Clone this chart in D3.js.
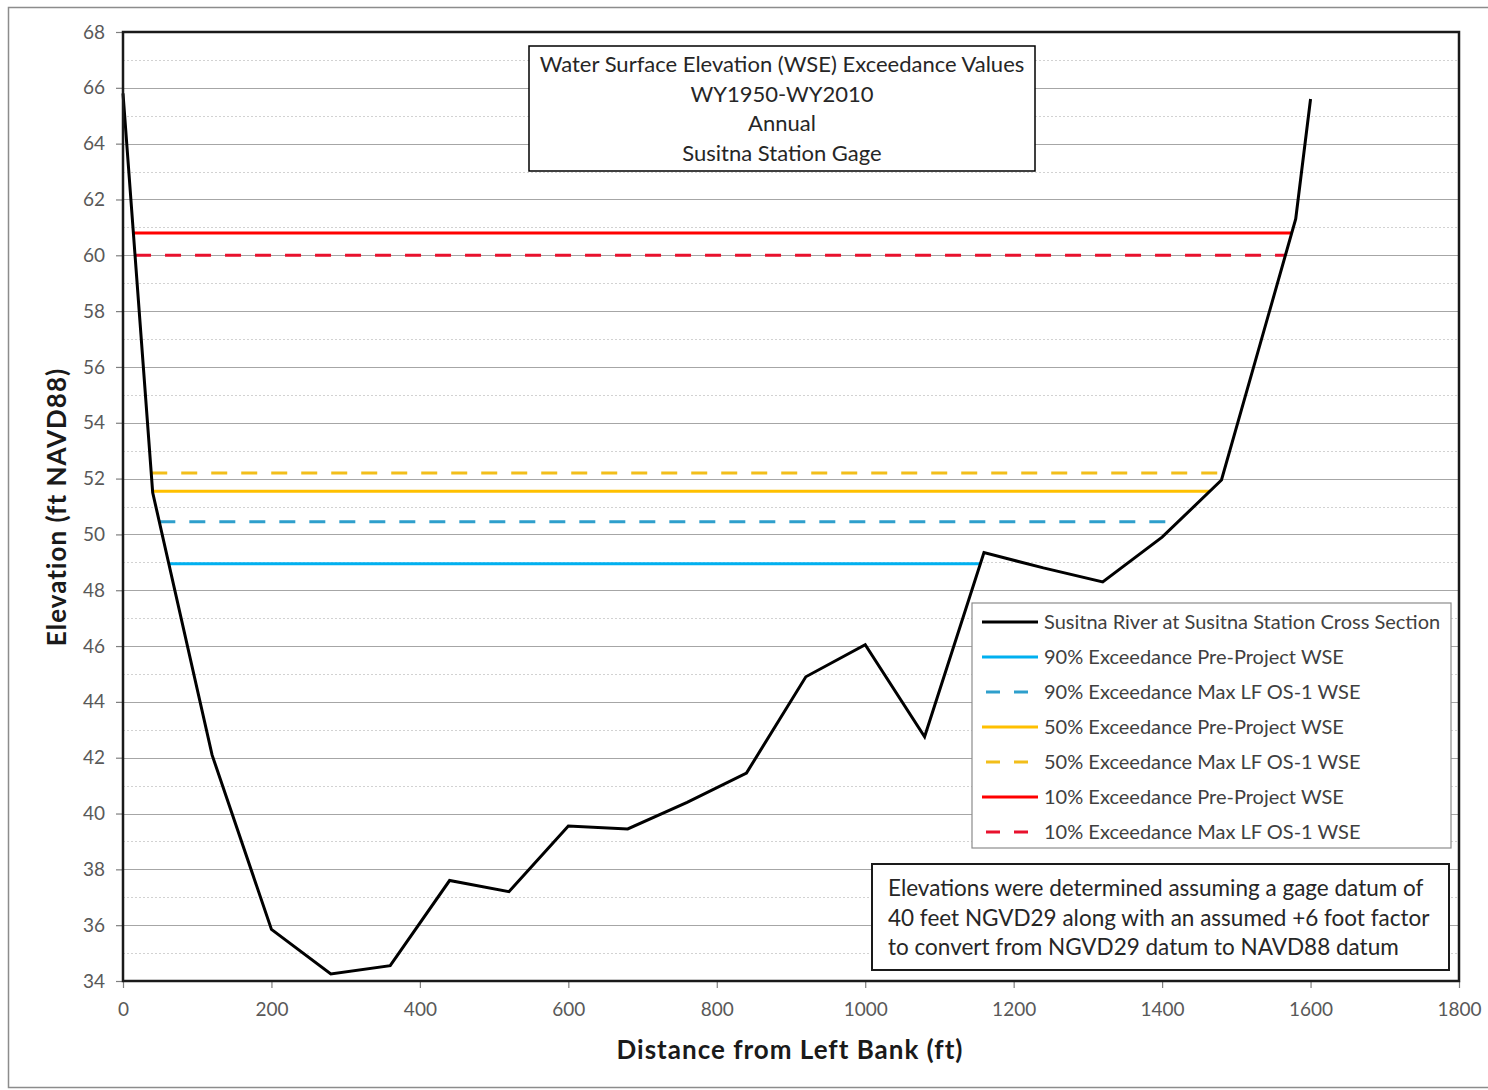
<!DOCTYPE html>
<html>
<head>
<meta charset="utf-8">
<script src="https://cdn.jsdelivr.net/npm/d3@7/dist/d3.min.js"></script>
<style>
  html, body { margin: 0; padding: 0; background: #fff; }
  svg { display: block; font-family: Lato, "Open Sans", sans-serif; }
</style>
</head>
<body>
<svg id="chart" width="1488" height="1090"></svg>
<script>
// ---- data ----
const stationFt = [0, 40, 120, 200, 280, 360, 440, 520, 600, 680, 760, 840, 920, 1000, 1080, 1160, 1240, 1320, 1400, 1480, 1580, 1600];
const elevationFt = [65.8, 51.5, 42.1, 35.85, 34.25, 34.55, 37.6, 37.2, 39.55, 39.45, 40.4, 41.45, 44.9, 46.05, 42.75, 49.35, 48.8, 48.3, 49.9, 51.95, 61.3, 65.6];
const sectionName = "Susitna River at Susitna Station Cross Section";

const wseNames = [
  "90% Exceedance Pre-Project WSE",
  "90% Exceedance Max LF OS-1 WSE",
  "50% Exceedance Pre-Project WSE",
  "50% Exceedance Max LF OS-1 WSE",
  "10% Exceedance Pre-Project WSE",
  "10% Exceedance Max LF OS-1 WSE"
];
const wseValues = [48.95, 50.45, 51.55, 52.2, 60.8, 60.0];
const wseColors = ["#00B0F0", "#2E9FCC", "#FFC000", "#F2BE1A", "#FF0000", "#E8112D"];
const wseDashed = [false, true, false, true, false, true];

const xTicks = [0, 200, 400, 600, 800, 1000, 1200, 1400, 1600, 1800];
const yTicks = [34, 36, 38, 40, 42, 44, 46, 48, 50, 52, 54, 56, 58, 60, 62, 64, 66, 68];
const yMinorTicks = [35, 37, 39, 41, 43, 45, 47, 49, 51, 53, 55, 57, 59, 61, 63, 65, 67];

const titleLines = ["Water Surface Elevation (WSE) Exceedance Values", "WY1950-WY2010", "Annual", "Susitna Station Gage"];
const noteLines = ["Elevations were determined assuming a gage datum of", "40 feet NGVD29 along with an assumed +6 foot factor", "to convert from NGVD29 datum to NAVD88 datum"];
const xLabel = "Distance from Left Bank (ft)";
const yLabel = "Elevation (ft NAVD88)";

// ---- layout ----
const svg = d3.select("#chart");
const L = 123, T = 32, R = 1459, B = 981;
const x = d3.scaleLinear().domain([0, 1800]).range([L, R]);
const y = d3.scaleLinear().domain([34, 68]).range([B, T]);

// outer frame
svg.append("rect").attr("x", 8.5).attr("y", 7.5).attr("width", 1490).attr("height", 1080)
  .attr("fill", "#fff").attr("stroke", "#8c8c8c").attr("stroke-width", 1.5);

// minor grid
svg.append("g").selectAll("line").data(yMinorTicks).join("line")
  .attr("x1", L).attr("x2", R).attr("y1", d => Math.round(y(d)) + 0.5).attr("y2", d => Math.round(y(d)) + 0.5)
  .attr("stroke", "#d2d2d2").attr("stroke-width", 1).attr("stroke-dasharray", "2,2");
// major grid
svg.append("g").selectAll("line").data(yTicks).join("line")
  .attr("x1", L).attr("x2", R).attr("y1", d => Math.round(y(d)) + 0.5).attr("y2", d => Math.round(y(d)) + 0.5)
  .attr("stroke", "#a6a6a6").attr("stroke-width", 1.2);

// axes
const yAxis = d3.axisLeft(y).tickValues(yTicks).tickSize(7).tickPadding(11).tickFormat(d3.format("d"));
const gy = svg.append("g").attr("transform", `translate(${L},0)`).call(yAxis);
const xAxis = d3.axisBottom(x).tickValues(xTicks).tickSize(7).tickPadding(15).tickFormat(d3.format("d"));
const gx = svg.append("g").attr("transform", `translate(0,${B})`).call(xAxis);
[gx, gy].forEach(g => {
  g.select(".domain").remove();
  g.selectAll(".tick line").attr("stroke", "#7f7f7f").attr("stroke-width", 1.2);
  g.selectAll(".tick text").attr("fill", "#595959").attr("font-size", 19).attr("font-family", "Lato, sans-serif");
});

// WSE lines: span from left-bank crossing to next rising crossing
function crossings(level) {
  let xl = null, xr = null;
  for (let i = 0; i < stationFt.length - 1; i++) {
    const a = elevationFt[i], b = elevationFt[i + 1];
    if (xl === null && a >= level && b < level) {
      xl = stationFt[i] + (stationFt[i + 1] - stationFt[i]) * (a - level) / (a - b);
    } else if (xl !== null && a < level && b >= level) {
      xr = stationFt[i] + (stationFt[i + 1] - stationFt[i]) * (level - a) / (b - a);
      break;
    }
  }
  return [xl, xr];
}
const wse = wseValues.map((v, i) => ({ v, c: wseColors[i], dash: wseDashed[i], span: crossings(v) }));
svg.append("g").selectAll("line").data(wse).join("line")
  .attr("x1", d => x(d.span[0])).attr("x2", d => x(d.span[1]))
  .attr("y1", d => y(d.v)).attr("y2", d => y(d.v))
  .attr("stroke", d => d.c).attr("stroke-width", 3)
  .attr("stroke-dasharray", d => d.dash ? "16,14" : null);

// cross section
const line = d3.line().x((d, i) => x(stationFt[i])).y(d => y(d));
svg.append("path").datum(elevationFt).attr("d", line)
  .attr("fill", "none").attr("stroke", "#000").attr("stroke-width", 3).attr("stroke-linejoin", "miter");

// plot frame
svg.append("rect").attr("x", L).attr("y", T).attr("width", R - L).attr("height", B - T)
  .attr("fill", "none").attr("stroke", "#1a1a1a").attr("stroke-width", 2.5);

// title box
const tb = svg.append("g");
tb.append("rect").attr("x", 529).attr("y", 46).attr("width", 506).attr("height", 125)
  .attr("fill", "#fff").attr("stroke", "#000").attr("stroke-width", 1.5);
tb.selectAll("text").data(titleLines).join("text")
  .attr("x", 782).attr("y", (d, i) => 72 + i * 29.5)
  .attr("text-anchor", "middle").attr("font-size", 22).attr("fill", "#262626").text(d => d);

// legend
const lg = svg.append("g");
lg.append("rect").attr("x", 972).attr("y", 603).attr("width", 479).attr("height", 245)
  .attr("fill", "#fff").attr("stroke", "#8c8c8c").attr("stroke-width", 1.2);
const legendItems = [{ name: sectionName, c: "#000", dash: false }]
  .concat(wseNames.map((n, i) => ({ name: n, c: wseColors[i], dash: wseDashed[i] })));
const li = lg.selectAll("g.item").data(legendItems).join("g").attr("class", "item")
  .attr("transform", (d, i) => `translate(0,${622 + i * 35})`);
li.append("line").attr("x1", 982).attr("x2", 1038).attr("y1", 0).attr("y2", 0)
  .attr("stroke", d => d.c).attr("stroke-width", 3).attr("stroke-dasharray", d => d.dash ? "14,14" : null)
  .attr("stroke-dashoffset", d => d.dash ? -4 : 0);
li.append("text").attr("x", 1044).attr("y", 7).attr("font-size", 20).attr("fill", "#404040").text(d => d.name);

// note box
const nb = svg.append("g");
nb.append("rect").attr("x", 872).attr("y", 864).attr("width", 577).attr("height", 106)
  .attr("fill", "#fff").attr("stroke", "#1a1a1a").attr("stroke-width", 2);
nb.selectAll("text").data(noteLines).join("text")
  .attr("x", 888).attr("y", (d, i) => 896 + i * 29.5)
  .attr("font-size", 22.5).attr("fill", "#262626").text(d => d);

// axis labels
svg.append("text").attr("x", 790).attr("y", 1059).attr("text-anchor", "middle")
  .attr("font-size", 26).attr("letter-spacing", 1).attr("font-weight", "bold").attr("fill", "#1a1a1a").text(xLabel);
svg.append("text").attr("transform", "translate(66,507) rotate(-90)").attr("text-anchor", "middle")
  .attr("font-size", 26).attr("letter-spacing", 1).attr("font-weight", "bold").attr("fill", "#1a1a1a").text(yLabel);
</script>
</body>
</html>
